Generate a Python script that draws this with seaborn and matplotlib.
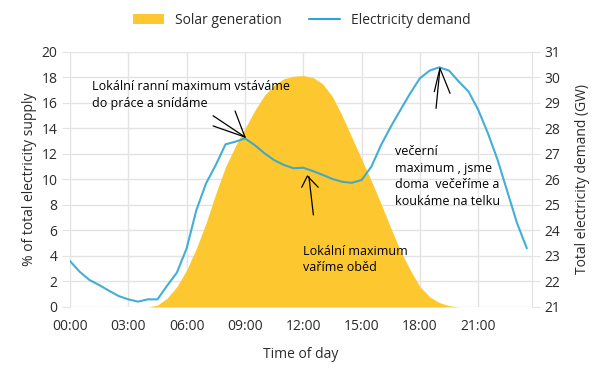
import numpy as np
import pandas as pd
import seaborn as sns
import matplotlib.pyplot as plt
from matplotlib.patches import Patch
from matplotlib.lines import Line2D

# half-hour time steps (hours)
hours = [0.0, 0.5, 1.0, 1.5, 2.0, 2.5, 3.0, 3.5, 4.0, 4.5, 5.0, 5.5,
         6.0, 6.5, 7.0, 7.5, 8.0, 8.5, 9.0, 9.5, 10.0, 10.5, 11.0, 11.5,
         12.0, 12.5, 13.0, 13.5, 14.0, 14.5, 15.0, 15.5, 16.0, 16.5, 17.0, 17.5,
         18.0, 18.5, 19.0, 19.5, 20.0, 20.5, 21.0, 21.5, 22.0, 22.5, 23.0, 23.5]

# % of total electricity supply from solar
solar = [0, 0, 0, 0, 0, 0, 0, 0, 0.0, 0.15, 0.7, 1.6,
         2.9, 4.6, 6.6, 8.9, 11.0, 12.6, 14.0, 15.4, 16.6, 17.4, 17.9, 18.1,
         18.15, 18.0, 17.5, 16.5, 15.0, 13.3, 11.6, 9.9, 8.1, 6.2, 4.4, 2.9,
         1.6, 0.8, 0.35, 0.1, 0, 0, 0, 0, 0, 0, 0, 0]

# total electricity demand (GW)
demand = [22.80, 22.38, 22.06, 21.86, 21.64, 21.43, 21.30, 21.21, 21.30, 21.30,
          21.84, 22.35, 23.30, 24.80, 25.85, 26.57, 27.38, 27.48, 27.61, 27.35,
          27.03, 26.76, 26.57, 26.44, 26.46, 26.33, 26.18, 26.02, 25.91, 25.87,
          25.98, 26.50, 27.35, 28.07, 28.73, 29.38, 29.97, 30.27, 30.40, 30.27,
          29.84, 29.45, 28.73, 27.81, 26.76, 25.52, 24.28, 23.30]

tick_hours = [0, 3, 6, 9, 12, 15, 18, 21]
tick_labels = ["00:00", "03:00", "06:00", "09:00", "12:00", "15:00", "18:00", "21:00"]

df = pd.DataFrame({"hour": hours, "solar": solar, "demand": demand})

sns.set_style("whitegrid")
plt.rcParams["font.family"] = ["Open Sans", "DejaVu Sans"]

yellow = "#FDC82F"
blue = "#2EA6D3"
grid = "#E3E3E3"
txt = "#2B2B2B"

fig = plt.figure(figsize=(6.04, 3.79), dpi=100)
ax = fig.add_axes([0.1159, 0.19, 0.7644, 0.6728])
ax2 = ax.twinx()

ax.fill_between(df["hour"], 0, df["solar"], color=yellow, linewidth=0)
sns.lineplot(data=df, x="hour", y="demand", ax=ax2, color=blue, linewidth=1.5, alpha=0.9)

ax.set_xlim(0, 23.75)
ax.set_ylim(0, 20)
ax2.set_ylim(21, 31)
ax.set_xticks(tick_hours)
ax.set_xticklabels(tick_labels)
ax.set_yticks(range(0, 21, 2))
ax2.set_yticks(range(21, 32))

ax.grid(True, color=grid, linewidth=1)
ax2.grid(False)
for a in (ax, ax2):
    for s in a.spines.values():
        s.set_visible(False)
ax.spines["right"].set_visible(True)
ax.spines["right"].set_color(grid)

ax.tick_params(axis="both", length=6, color=grid, labelsize=10, labelcolor=txt, pad=3)
ax2.tick_params(axis="y", length=6, color=grid, labelsize=10, labelcolor=txt, pad=3)

ax.set_xlabel("Time of day", fontsize=10, color=txt, labelpad=9)
ax.set_ylabel("% of total electricity supply", fontsize=10, color=txt, labelpad=3)
ax2.set_ylabel("Total electricity demand (GW)", fontsize=10, color=txt, labelpad=11)

# annotations
ax.text(1.13, 17.8, "Lokální ranní maximum vstáváme\ndo práce a snídáme",
        fontsize=9, va="top", ha="left", color="black", linespacing=1.35, zorder=5)
ax.text(12.0, 4.9, "Lokální maximum\nvaříme oběd",
        fontsize=9, va="top", ha="left", color="black", linespacing=1.35, zorder=5)
ax2.text(16.72, 21 + 12.7 / 2, "večerní\nmaximum , jsme\ndoma  večeříme a\nkoukáme na telku",
         fontsize=9, va="top", ha="left", color="black", linespacing=1.35, zorder=5)

arrows = [
    ([7.36, 9.0], [15.0, 13.33]),
    ([7.36, 9.0], [14.2, 13.33]),
    ([8.49, 9.0], [15.37, 13.33]),
    ([12.52, 12.29], [7.22, 10.22]),
    ([11.92, 12.21, 12.77], [9.39, 10.27, 9.39]),
    ([18.83, 19.03], [15.58, 18.72]),
    ([18.74, 19.03, 19.55], [16.89, 18.72, 16.76]),
]
for xs, ys in arrows:
    ax2.plot(xs, [21 + y / 2 for y in ys], color="black", linewidth=0.9, zorder=6)

handles = [Patch(facecolor=yellow, edgecolor="none", label="Solar generation"),
           Line2D([0], [0], color=blue, linewidth=1.5, label="Electricity demand")]
fig.legend(handles=handles, loc="upper center", bbox_to_anchor=(0.5, 1.0), ncol=2,
           frameon=False, fontsize=10, handlelength=2.2, columnspacing=2.0,
           labelcolor=txt)

fig.savefig("out.png", dpi=100)
